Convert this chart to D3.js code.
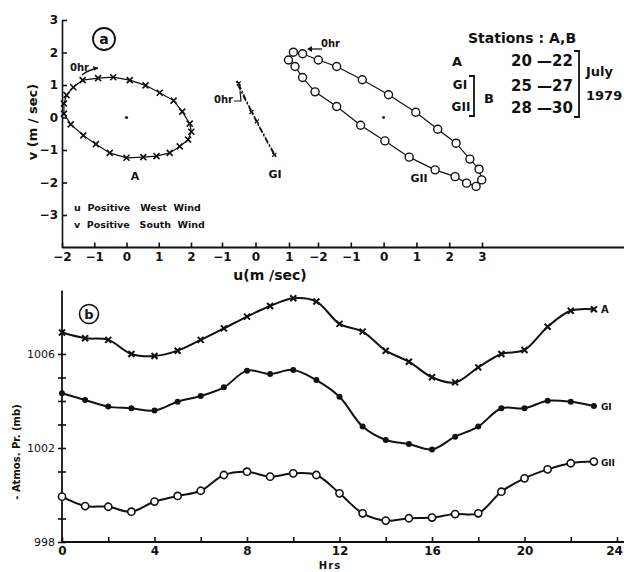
<!DOCTYPE html>
<html>
<head>
<meta charset="utf-8">
<script src="https://cdn.jsdelivr.net/npm/d3@7"></script>
<style>
  body { margin: 0; background: #fff; }
  text { font-family: "DejaVu Sans", sans-serif; font-weight: bold; fill: #111; }
  .axis text { font-family: "DejaVu Sans", sans-serif; font-weight: bold; fill: #111; }
  .axis line, .axis path { stroke: #111; stroke-width: 1.6; }
</style>
</head>
<body>
<svg id="chart" width="624" height="572"></svg>
<script>
// (a) hodographs, [u, v] in m/sec, hourly starting at 0 hr
let hodoA = [
  [-1.36, 1.15], [-0.88, 1.21], [-0.41, 1.24], [0.10, 1.15], [0.59, 0.99], [1.03, 0.76],
  [1.46, 0.52], [1.73, 0.18], [1.96, -0.19], [2.01, -0.44], [1.91, -0.68], [1.65, -0.89],
  [1.34, -1.09], [0.93, -1.19], [0.52, -1.22], [0.00, -1.24], [-0.52, -1.09], [-0.95, -0.82],
  [-1.34, -0.55], [-1.73, -0.21], [-1.94, 0.12], [-1.94, 0.43], [-1.86, 0.69], [-1.65, 0.93]
];
let hodoGI = [
  [-0.50, 1.05], [-0.42, 0.85], [-0.33, 0.65], [-0.24, 0.45], [-0.15, 0.27], [-0.06, 0.08],
  [0.04, -0.12], [0.14, -0.32], [0.25, -0.52], [0.36, -0.74], [0.48, -0.96], [0.60, -1.18],
  [0.56, -1.15], [0.44, -0.93], [0.32, -0.70], [0.20, -0.47], [0.09, -0.25], [-0.02, -0.03],
  [-0.12, 0.17], [-0.22, 0.37], [-0.32, 0.57], [-0.42, 0.78], [-0.52, 0.98], [-0.58, 1.15]
];
let hodoGII = [
  [-1.99, 1.77], [-1.43, 1.57], [-0.65, 1.16], [0.15, 0.70], [0.98, 0.16], [1.65, -0.36],
  [2.21, -0.79], [2.63, -1.28], [2.91, -1.59], [2.99, -1.92], [2.82, -2.12], [2.53, -2.02],
  [2.18, -1.82], [1.57, -1.61], [0.78, -1.22], [0.04, -0.72], [-0.70, -0.24], [-1.43, 0.34],
  [-2.09, 0.79], [-2.47, 1.23], [-2.70, 1.57], [-2.90, 1.77], [-2.75, 2.01], [-2.47, 1.96]
];
let vTicks = [3, 2, 1, 0, -1, -2, -3];
let uTicksA = [-2, -1, 0, 1, 2];
let uTicksGI = [-1, 0, 1];
let uTicksGII = [-2, -1, 0, 1, 2, 3];

// (b) atmospheric pressure (mb), hourly 0..23
let hours = d3.range(0, 24);
let pressA = [1006.91, 1006.67, 1006.60, 1006.00, 1005.91, 1006.14, 1006.60, 1007.09, 1007.59, 1008.04,
  1008.37, 1008.23, 1007.28, 1006.95, 1006.14, 1005.67, 1005.01, 1004.79, 1005.43, 1006.00,
  1006.17, 1007.16, 1007.84, 1007.90];
let pressGI = [1004.33, 1004.04, 1003.76, 1003.69, 1003.59, 1003.97, 1004.21, 1004.58, 1005.29, 1005.15,
  1005.32, 1004.89, 1004.18, 1002.91, 1002.34, 1002.17, 1001.94, 1002.48, 1002.91, 1003.69,
  1003.69, 1004.01, 1003.97, 1003.79];
let pressGII = [999.93, 999.53, 999.50, 999.29, 999.72, 999.96, 1000.18, 1000.85, 1000.99, 1000.78,
  1000.92, 1000.85, 1000.07, 999.22, 998.91, 999.01, 999.04, 999.19, 999.22, 1000.14,
  1000.71, 1001.09, 1001.35, 1001.42];
let hrTicks = [0, 2, 4, 6, 8, 10, 12, 14, 16, 18, 20, 22, 24];
let hrLabels = [0, 4, 8, 12, 16, 20, 24];
let mbTicks = [998, 999, 1000, 1001, 1002, 1003, 1004, 1005, 1006];
let mbLabels = [998, 1002, 1006];

let svg = d3.select("#chart");

// ---------- panel (a) ----------
let yV = d3.scaleLinear().domain([-4, 3]).range([247.5, 20]);
let xA = d3.scaleLinear().domain([-2, 2]).range([62, 191]);
let xGI = d3.scaleLinear().domain([-1, 1]).range([222, 289]);
let xGII = d3.scaleLinear().domain([-2, 3]).range([318, 482]);

let axV = svg.append("g").attr("class", "axis")
  .attr("transform", "translate(62,0)")
  .call(d3.axisLeft(yV).tickValues(vTicks).tickSizeInner(-5).tickSizeOuter(0).tickPadding(4)
    .tickFormat(d => d < 0 ? "\u2212" + Math.abs(d) : d));
axV.selectAll("text").style("font-size", "12px");

svg.append("line")
  .attr("x1", 62).attr("x2", 624)
  .attr("y1", yV(-4)).attr("y2", yV(-4))
  .attr("stroke", "#111").attr("stroke-width", 1.8);

[[xA, uTicksA], [xGI, uTicksGI], [xGII, uTicksGII]].forEach(function (p) {
  let g = svg.append("g").attr("class", "axis")
    .attr("transform", "translate(0," + yV(-4) + ")")
    .call(d3.axisBottom(p[0]).tickValues(p[1]).tickSizeInner(-5).tickSizeOuter(0).tickPadding(5)
      .tickFormat(d => d < 0 ? "\u2212" + Math.abs(d) : d));
  g.select(".domain").remove();
  g.selectAll("text").style("font-size", "12px");
});

svg.append("text").attr("x", 270).attr("y", 280).attr("text-anchor", "middle")
  .style("font-size", "14px").text("u(m /sec)");
svg.append("text").attr("transform", "translate(37,122) rotate(-90)").attr("text-anchor", "middle")
  .style("font-size", "13px").text("v (m / sec)");

// (a) label
svg.append("circle").attr("cx", 104).attr("cy", 39).attr("r", 11)
  .attr("fill", "none").attr("stroke", "#111").attr("stroke-width", 1.8);
svg.append("text").attr("x", 104).attr("y", 44).attr("text-anchor", "middle")
  .style("font-size", "14px").text("a");

// hodograph A: crosses joined by lines
let lineA = d3.line().x(d => xA(d[0])).y(d => yV(d[1])).curve(d3.curveLinearClosed);
svg.append("path").datum(hodoA).attr("d", lineA)
  .attr("fill", "none").attr("stroke", "#111").attr("stroke-width", 1.2);
svg.selectAll(".crossA").data(hodoA).enter().append("path")
  .attr("class", "crossA")
  .attr("transform", d => "translate(" + xA(d[0]) + "," + yV(d[1]) + ")")
  .attr("d", "M-3,-3L3,3M-3,3L3,-3")
  .attr("stroke", "#111").attr("stroke-width", 1.6);
svg.append("circle").attr("cx", xA(0)).attr("cy", yV(0)).attr("r", 1.6).attr("fill", "#111");

// hodograph GI: narrow dash-dot loop
let lineGI = d3.line().x(d => xGI(d[0])).y(d => yV(d[1])).curve(d3.curveLinearClosed);
svg.append("path").datum(hodoGI).attr("d", lineGI)
  .attr("fill", "none").attr("stroke", "#111").attr("stroke-width", 1.3)
  .attr("stroke-dasharray", "6,2,2,2");
svg.selectAll(".crossGI").data(hodoGI.filter((d, i) => i % 6 == 0)).enter().append("path")
  .attr("class", "crossGI")
  .attr("transform", d => "translate(" + xGI(d[0]) + "," + yV(d[1]) + ")")
  .attr("d", "M-2,-2L2,2M-2,2L2,-2")
  .attr("stroke", "#111").attr("stroke-width", 1.3);

// hodograph GII: open circles
let lineGII = d3.line().x(d => xGII(d[0])).y(d => yV(d[1])).curve(d3.curveLinearClosed);
svg.append("path").datum(hodoGII).attr("d", lineGII)
  .attr("fill", "none").attr("stroke", "#111").attr("stroke-width", 1.2);
svg.selectAll(".circGII").data(hodoGII).enter().append("circle")
  .attr("class", "circGII")
  .attr("cx", d => xGII(d[0])).attr("cy", d => yV(d[1])).attr("r", 4)
  .attr("fill", "#fff").attr("stroke", "#111").attr("stroke-width", 1.4);
svg.append("circle").attr("cx", xGII(0)).attr("cy", yV(0)).attr("r", 1.4).attr("fill", "#111");

// hodograph labels and 0 hr marks
svg.append("text").attr("x", 135).attr("y", 180).attr("text-anchor", "middle")
  .style("font-size", "11px").text("A");
svg.append("text").attr("x", 275).attr("y", 178).attr("text-anchor", "middle")
  .style("font-size", "11px").text("GI");
svg.append("text").attr("x", 419).attr("y", 182).attr("text-anchor", "middle")
  .style("font-size", "11px").text("GII");

svg.append("text").attr("x", 70).attr("y", 71).style("font-size", "10px").text("0hr");
svg.append("path").attr("d", "M82,75 Q88,70 98,68").attr("fill", "none")
  .attr("stroke", "#111").attr("stroke-width", 1.3);
svg.append("path").attr("d", "M98,68 l-5,-2 l1,5 z").attr("fill", "#111");

svg.append("text").attr("x", 214).attr("y", 103).style("font-size", "10px").text("0hr");
svg.append("path").attr("d", "M234,101 L241,101 L240,91").attr("fill", "none")
  .attr("stroke", "#111").attr("stroke-width", 1.2);

svg.append("text").attr("x", 321).attr("y", 47).style("font-size", "10px").text("0hr");
svg.append("path").attr("d", "M322,49 L309,49").attr("fill", "none")
  .attr("stroke", "#111").attr("stroke-width", 1.3);
svg.append("path").attr("d", "M307,49 l5,-3 l0,6 z").attr("fill", "#111");

// legend
svg.append("text").attr("x", 74).attr("y", 211).style("font-size", "9.5px")
  .attr("xml:space", "preserve").text("u  Positive   West  Wind");
svg.append("text").attr("x", 74).attr("y", 228).style("font-size", "9.5px")
  .attr("xml:space", "preserve").text("v  Positive   South  Wind");

// stations block
svg.append("text").attr("x", 468).attr("y", 43).style("font-size", "14px").text("Stations : A,B");
svg.append("text").attr("x", 457).attr("y", 66).attr("text-anchor", "middle").style("font-size", "13px").text("A");
svg.append("text").attr("x", 460).attr("y", 89).attr("text-anchor", "middle").style("font-size", "12px").text("GI");
svg.append("text").attr("x", 461).attr("y", 111).attr("text-anchor", "middle").style("font-size", "12px").text("GII");
svg.append("text").attr("x", 489).attr("y", 103).attr("text-anchor", "middle").style("font-size", "13px").text("B");
svg.append("text").attr("x", 573).attr("y", 66).attr("text-anchor", "end").style("font-size", "15px").text("20 \u201422");
svg.append("text").attr("x", 573).attr("y", 91).attr("text-anchor", "end").style("font-size", "15px").text("25 \u201427");
svg.append("text").attr("x", 573).attr("y", 113).attr("text-anchor", "end").style("font-size", "15px").text("28 \u201430");
svg.append("path").attr("d", "M574,51 L579,51 L579,117 L574,117").attr("fill", "none")
  .attr("stroke", "#111").attr("stroke-width", 1.8);
svg.append("path").attr("d", "M469,76 L474,76 L474,116 L469,116").attr("fill", "none")
  .attr("stroke", "#111").attr("stroke-width", 1.8);
svg.append("text").attr("x", 586).attr("y", 76).style("font-size", "13px").text("July");
svg.append("text").attr("x", 586).attr("y", 100).style("font-size", "13px").text("1979");

// ---------- panel (b) ----------
let xHr = d3.scaleLinear().domain([0, 24]).range([62, 617]);
let yMb = d3.scaleLinear().domain([998, 1008.7]).range([542, 290.5]);

svg.append("line").attr("x1", 62).attr("x2", 62)
  .attr("y1", yMb(998)).attr("y2", yMb(1008.7))
  .attr("stroke", "#111").attr("stroke-width", 1.8);
let axMb = svg.append("g").attr("class", "axis")
  .attr("transform", "translate(62,0)")
  .call(d3.axisLeft(yMb).tickValues(mbTicks).tickSizeInner(4).tickSizeOuter(0).tickPadding(3)
    .tickFormat(d => mbLabels.indexOf(d) >= 0 ? d : ""));
axMb.select(".domain").remove();
axMb.selectAll(".tick line").attr("x1", 4);
axMb.selectAll("text").style("font-size", "11px").style("font-weight", "normal");

svg.append("line").attr("x1", 62).attr("x2", 624)
  .attr("y1", yMb(998)).attr("y2", yMb(998))
  .attr("stroke", "#111").attr("stroke-width", 1.8);
let axHr = svg.append("g").attr("class", "axis")
  .attr("transform", "translate(0," + yMb(998) + ")")
  .call(d3.axisBottom(xHr).tickValues(hrTicks).tickSizeInner(-5).tickSizeOuter(0).tickPadding(4)
    .tickFormat(d => hrLabels.indexOf(d) >= 0 ? d : ""));
axHr.select(".domain").remove();
axHr.selectAll("text").style("font-size", "12px");
axHr.selectAll("text").filter(d => d == 24).attr("dx", "-3");

svg.append("text").attr("x", 330).attr("y", 569).attr("text-anchor", "middle")
  .style("font-size", "10px").style("letter-spacing", "1px").text("Hrs");
svg.append("text").attr("transform", "translate(20,452) rotate(-90)").attr("text-anchor", "middle")
  .style("font-size", "10px").text("- Atmos. Pr. (mb)");

// (b) label
svg.append("circle").attr("cx", 89).attr("cy", 314).attr("r", 9.5)
  .attr("fill", "none").attr("stroke", "#111").attr("stroke-width", 1.6);
svg.append("text").attr("x", 89).attr("y", 319).attr("text-anchor", "middle")
  .style("font-size", "13px").text("b");

let pressLine = d3.line().x((d, i) => xHr(hours[i])).y(d => yMb(d)).curve(d3.curveCatmullRom);
[pressA, pressGI, pressGII].forEach(function (s) {
  svg.append("path").datum(s).attr("d", pressLine)
    .attr("fill", "none").attr("stroke", "#111").attr("stroke-width", 2);
});

svg.selectAll(".mA").data(pressA).enter().append("path")
  .attr("class", "mA")
  .attr("transform", (d, i) => "translate(" + xHr(hours[i]) + "," + yMb(d) + ")")
  .attr("d", "M-3,-3L3,3M-3,3L3,-3")
  .attr("stroke", "#111").attr("stroke-width", 2);
svg.selectAll(".mGI").data(pressGI).enter().append("circle")
  .attr("class", "mGI")
  .attr("cx", (d, i) => xHr(hours[i])).attr("cy", d => yMb(d)).attr("r", 3)
  .attr("fill", "#111");
svg.selectAll(".mGII").data(pressGII).enter().append("circle")
  .attr("class", "mGII")
  .attr("cx", (d, i) => xHr(hours[i])).attr("cy", d => yMb(d)).attr("r", 3.6)
  .attr("fill", "#fff").attr("stroke", "#111").attr("stroke-width", 1.6);

let endX = xHr(hours[23]) + 7;
svg.append("text").attr("x", endX).attr("y", yMb(pressA[23]) + 4).style("font-size", "10px").text("A");
svg.append("text").attr("x", endX).attr("y", yMb(pressGI[23]) + 4).style("font-size", "9px").text("GI");
svg.append("text").attr("x", endX).attr("y", yMb(pressGII[23]) + 4).style("font-size", "9px").text("GII");
</script>
</body>
</html>
